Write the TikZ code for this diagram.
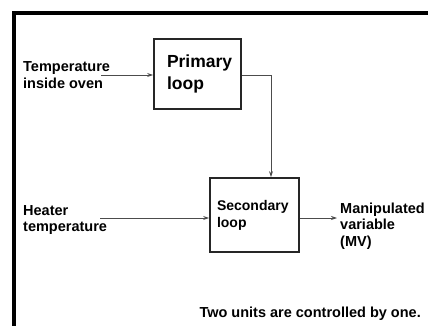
\documentclass[tikz,border=0pt]{standalone}
\usepackage{fontspec}
\setmainfont{Liberation Sans}
\usetikzlibrary{arrows.meta}
\begin{document}
\begin{tikzpicture}[x=1pt,y=-1pt,
  lbl/.style={font=\bfseries\fontsize{14.5}{16.5}\selectfont, align=left, inner sep=0pt},
  loopbox/.style={draw=black!85, line width=1.8pt, align=left, inner sep=0pt},
  conn/.style={draw=black!70, line width=0.8pt, -{Stealth[length=6pt,width=4pt]}}]
\useasboundingbox (0,0) rectangle (428,326);
\fill[white] (0,0) rectangle (428,326);
% frame
\draw[line width=3.5pt, black] (14,328) -- (14,13) -- (430,13);
% boxes
\node[loopbox, minimum width=87pt, minimum height=70pt, text width=61pt,
      font=\bfseries\fontsize{17.5}{21.5}\selectfont] (prim) at (197.5,74) {Primary\\loop};
\node[loopbox, minimum width=89pt, minimum height=74pt, text width=75pt,
      font=\bfseries\fontsize{14}{17}\selectfont] (sec) at (254.5,215) {Secondary\\loop};
% labels
\node[lbl, anchor=west] (temp) at (23,75) {Temperature\\inside oven};
\node[lbl, anchor=west] (heat) at (23,220) {Heater\\temperature};
\node[lbl, anchor=west] (mv) at (340,226) {Manipulated\\variable\\(MV)};
\node[lbl, anchor=east] (note) at (421,314) {Two units are controlled by one.};
% connector points
\coordinate (tstart) at (101,75);
\coordinate (hstart) at (100,218);
\coordinate (mvend) at (337,218);
% connectors
\draw[conn] (tstart) -- (prim.west |- tstart);
\draw[conn] (prim.east |- tstart) -| ([xshift=16.5pt]sec.north);
\draw[conn] (hstart) -- (sec.west |- hstart);
\draw[conn] (sec.east |- mvend) -- (mvend);
\end{tikzpicture}
\end{document}
